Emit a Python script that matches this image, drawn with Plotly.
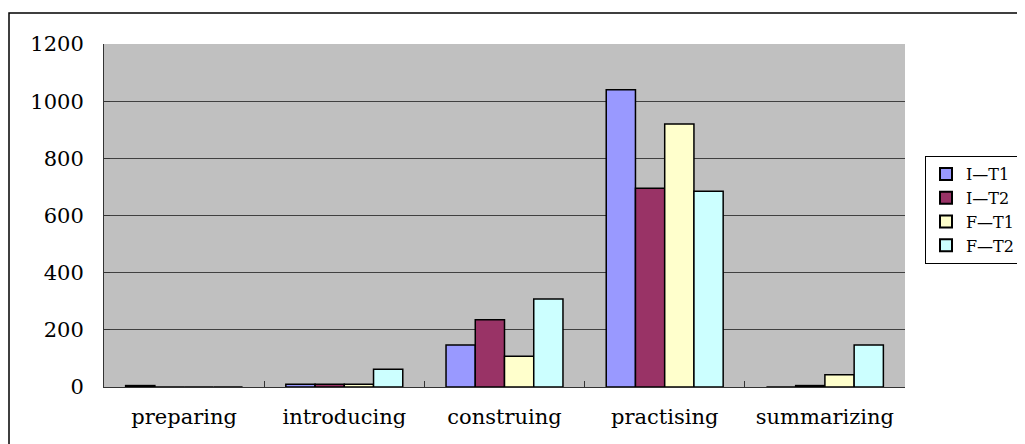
import plotly.graph_objects as go

categories = ["preparing", "introducing", "construing", "practising", "summarizing"]
series_names = ["I—T1", "I—T2", "F—T1", "F—T2"]
i_t1 = [5, 10, 147, 1040, 0]
i_t2 = [0, 10, 235, 695, 5]
f_t1 = [0, 10, 108, 920, 43]
f_t2 = [0, 62, 308, 685, 147]
colors = ["#9999FF", "#993366", "#FFFFCC", "#CCFFFF"]
y_ticks = [0, 200, 400, 600, 800, 1000, 1200]

FONT = "DejaVu Serif, Noto Sans CJK SC, serif"

fig = go.Figure()
for name, vals, col in zip(series_names, [i_t1, i_t2, f_t1, f_t2], colors):
    fig.add_trace(go.Bar(
        x=categories, y=vals, name=name,
        marker=dict(color=col, line=dict(color="black", width=1.5)),
    ))

OFF = 8  # page body margin
L, R, T, B = 104 - OFF, 905 - OFF, 44 - OFF, 387 - OFF
W, H = 1025 - OFF, 444 - OFF
pw, ph = R - L, B - T

def px_x(p):
    return (p - OFF - L) / pw

def px_y(p):
    return (B - (p - OFF)) / ph

fig.update_layout(
    width=W, height=H, autosize=False,
    margin=dict(l=L, r=W - R, t=T, b=H - B, pad=0, autoexpand=False),
    paper_bgcolor="white",
    plot_bgcolor="#C0C0C0",
    barmode="group",
    bargap=0.27,
    bargroupgap=0,
    font=dict(family=FONT, size=21, color="black"),
    showlegend=True,
    legend=dict(
        x=px_x(925), y=px_y(156), xanchor="left", yanchor="top",
        bgcolor="white", bordercolor="black", borderwidth=1,
        font=dict(family=FONT, size=16, color="black"),
        itemsizing="constant", tracegroupgap=0,
    ),
    xaxis=dict(
        showgrid=False, showline=True, linecolor="#333333", linewidth=1,
        ticks="inside", tickson="boundaries", ticklen=6, tickcolor="#333333",
        ticklabelstandoff=11, tickfont=dict(family=FONT, size=21),
    ),
    yaxis=dict(
        range=[0, 1200], tickvals=y_ticks, showgrid=True,
        gridcolor="#404040", gridwidth=1,
        showline=True, linecolor="#333333", linewidth=1,
        ticks="inside", ticklen=6, tickcolor="#333333",
        ticklabelstandoff=15, tickfont=dict(family=FONT, size=21),
        zeroline=False,
    ),
    shapes=[dict(
        type="rect", xref="paper", yref="paper",
        x0=px_x(9), x1=px_x(1040), y0=px_y(470), y1=px_y(13),
        line=dict(color="black", width=1.5), fillcolor="rgba(0,0,0,0)",
        layer="below",
    )],
)

fig.write_html("out.html")
